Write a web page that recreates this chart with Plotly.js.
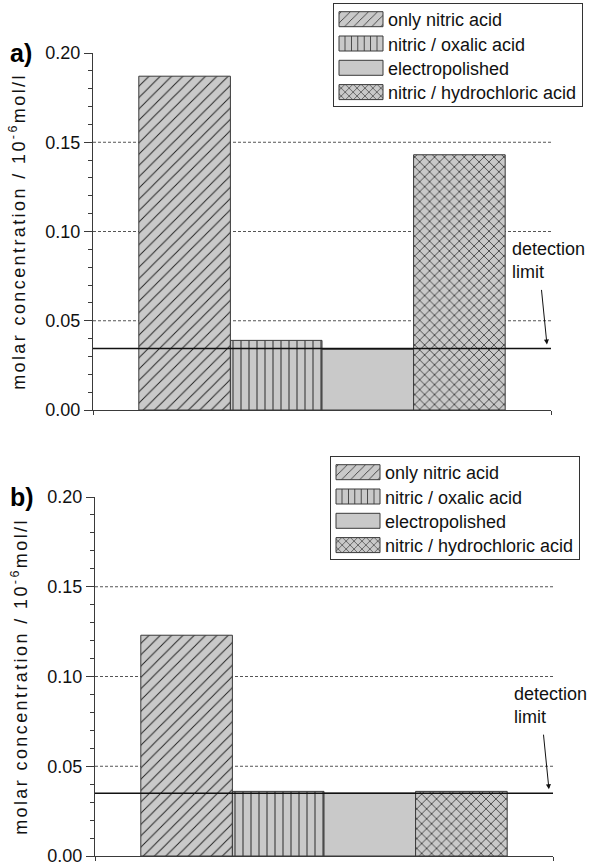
<!DOCTYPE html>
<html>
<head>
<meta charset="utf-8">
<script src="https://cdn.plot.ly/plotly-3.0.1.min.js"></script>
<style>
html,body{margin:0;padding:0;background:#fff;}
#chart{width:595px;height:864px;}
.g-ytitle text, .g-y2title text {letter-spacing: 2.4px;}
</style>
</head>
<body>
<div id="chart"></div>
<script>
// ---- data ----
const categories = ["only nitric acid", "nitric / oxalic acid", "electropolished", "nitric / hydrochloric acid"];
const valuesA = [0.187, 0.039, 0.034, 0.143];
const valuesB = [0.123, 0.036, 0.035, 0.036];
const detectionLimitA = 0.0345;
const detectionLimitB = 0.035;
const gridValues = [0.05, 0.10, 0.15];
const yTickValues = [0.00, 0.05, 0.10, 0.15, 0.20];
const panelLabels = ["a)", "b)"];
const yTitle = "molar concentration / 10<sup>-6</sup>mol/l";
const limitLabel = "detection<br>limit";

// ---- styles ----
const FONT = "Liberation Sans, Arial, sans-serif";
const patterns = ["/", "|", "", "x"];
const patternSizes = [8, 8, 8, 7];
const patternSolidity = [0.12, 0.12, 0.1, 0.2];
const fill = "#c9c9c9";
const edge = "#3a3a3a";

function barTraces(values, xa, ya, legendName) {
  return categories.map((name, i) => ({
    type: "bar",
    x: [i],
    y: [values[i]],
    width: 1,
    name: name,
    xaxis: xa, yaxis: ya,
    legend: legendName,
    marker: {
      color: fill,
      line: {color: edge, width: 1},
      pattern: {shape: patterns[i], bgcolor: fill, fgcolor: "#222", size: patternSizes[i], solidity: patternSolidity[i]}
    },
    hoverinfo: "skip"
  }));
}

const data = [
  ...barTraces(valuesA, "x", "y", "legend"),
  ...barTraces(valuesB, "x2", "y2", "legend2")
];

function yAxis(domain) {
  return {
    domain: domain, range: [0, 0.2], fixedrange: true,
    tickvals: yTickValues, tickformat: ".2f", ticklabeloverflow: "allow",
    ticks: "outside", ticklen: 8, tickwidth: 1, tickcolor: edge,
    minor: {dtick: 0.01, ticks: "outside", ticklen: 4, tickcolor: edge, showgrid: false},
    showgrid: false, zeroline: false, showline: true, linecolor: edge, linewidth: 1,
    tickfont: {family: FONT, size: 18, color: "#111"},
    title: {text: yTitle, font: {family: FONT, size: 18, color: "#111"}, standoff: 15}
  };
}
function xAxis(domain, anchor) {
  return {
    domain: domain, anchor: anchor, range: [-1, 4], fixedrange: true,
    tickvals: [-1, 4], showticklabels: false,
    ticks: "outside", ticklen: 4, tickcolor: edge,
    showgrid: false, zeroline: false, showline: true, linecolor: edge, linewidth: 1
  };
}

const shapes = [];
[["x", "y"], ["x2", "y2"]].forEach(([xa, ya], p) => {
  gridValues.forEach(v => shapes.push({
    type: "line", xref: xa + " domain", yref: ya, x0: 0, x1: 1, y0: v, y1: v,
    line: {color: "#555", width: 1, dash: "3px,2px"}, layer: "below"
  }));
  const lim = p === 0 ? detectionLimitA : detectionLimitB;
  shapes.push({
    type: "line", xref: xa + " domain", yref: ya, x0: 0, x1: 1, y0: lim, y1: lim,
    line: {color: "#111", width: 1.5}, layer: "above"
  });
});

const annotations = [];
[["x", "y", detectionLimitA], ["x2", "y2", detectionLimitB]].forEach(([xa, ya, lim], p) => {
  annotations.push({
    xref: xa, yref: ya, x: 3.96, y: lim, text: "", showarrow: true,
    ax: -6, ay: -60, arrowhead: 2, arrowsize: 1, arrowwidth: 1, arrowcolor: "#111", standoff: 4
  });
  annotations.push({
    xref: xa + " domain", yref: ya, x: 0.91, y: lim + 0.036, xanchor: "left", yanchor: "bottom",
    text: limitLabel, showarrow: false, align: "left",
    font: {family: FONT, size: 18, color: "#111"}
  });
  annotations.push({
    xref: "paper", yref: ya + " domain", x: 0.013, y: 1, xanchor: "left", yanchor: "middle",
    text: "<b>" + panelLabels[p] + "</b>", showarrow: false,
    font: {family: FONT, size: 25, color: "#000"}
  });
});

const legendStyle = {
  bgcolor: "#fff", bordercolor: "#333", borderwidth: 1,
  font: {family: FONT, size: 18, color: "#111"},
  xanchor: "left", yanchor: "top", tracegroupgap: 0, itemwidth: 44,
  itemclick: false, itemdoubleclick: false
};

const layout = {
  width: 595, height: 864,
  margin: {l: 0, r: 0, t: 0, b: 0},
  paper_bgcolor: "#fff", plot_bgcolor: "rgba(0,0,0,0)",
  barmode: "overlay", showlegend: true,
  xaxis: xAxis([93/595, 551/595], "y"),
  yaxis: yAxis([1 - 410/864, 1 - 53/864]),
  xaxis2: xAxis([95/595, 553/595], "y2"),
  yaxis2: Object.assign(yAxis([1 - 856/864, 1 - 497/864]), {anchor: "x2"}),
  legend: Object.assign({}, legendStyle, {x: 333/595, y: 1 - 3/864}),
  legend2: Object.assign({}, legendStyle, {x: 330/595, y: 1 - 456/864}),
  shapes: shapes,
  annotations: annotations,
  font: {family: FONT}
};

Plotly.newPlot("chart", data, layout, {staticPlot: true, displayModeBar: false}).then(gd => {
  // widen the legend swatches to match the reference's long rectangular keys
  gd.querySelectorAll(".legendpoints path").forEach(p => {
    p.setAttribute("d", "M22,7.5H-22V-7.5H22Z");
  });
  // tighten legend row spacing to the reference's ~24px rows
  const parse = el => {
    const m = /translate\(\s*([-\d.e]+)[ ,]+([-\d.e]+)\s*\)/.exec(el.getAttribute("transform") || "");
    return m ? [parseFloat(m[1]), parseFloat(m[2])] : [0, 0];
  };
  gd.querySelectorAll("g.legend, g.legend2").forEach(lg => {
    const items = Array.from(lg.querySelectorAll("g.traces"));
    if (items.length < 2) return;
    const step = 24.3;
    const y0 = parse(items[0])[1] - 3;
    items.forEach((it, i) => {
      const [x] = parse(it);
      it.setAttribute("transform", `translate(${x},${y0 + i * step})`);
    });
    const bg = lg.querySelector("rect.bg");
    if (bg) {
      const by = parseFloat(bg.getAttribute("y") || 0);
      bg.setAttribute("height", (y0 + (items.length - 1) * step + 14.5 - by).toFixed(1));
    }
  });
});
</script>
</body>
</html>
